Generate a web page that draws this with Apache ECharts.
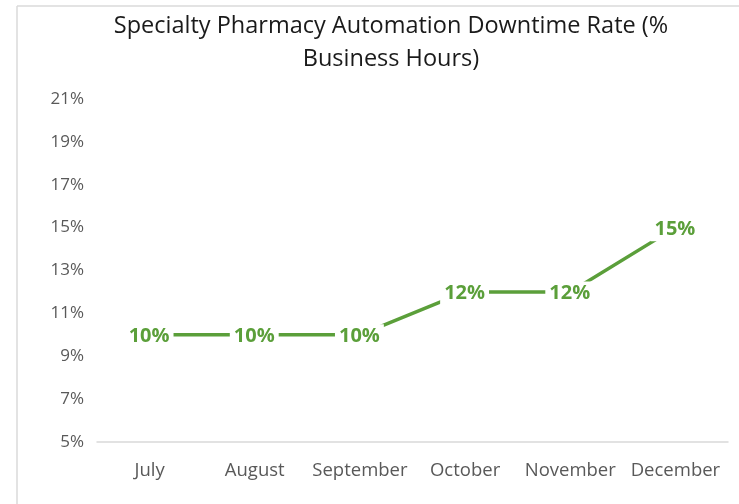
<!DOCTYPE html>
<html>
<head>
<meta charset="utf-8">
<script src="https://cdn.jsdelivr.net/npm/echarts@6/dist/echarts.min.js"></script>
<style>
  html, body { margin: 0; padding: 0; background: #ffffff; }
  #chart { width: 739px; height: 504px; }
</style>
</head>
<body>
<div id="chart"></div>
<script>
// Monthly downtime rate, percent of business hours
const months = ['July', 'August', 'September', 'October', 'November', 'December'];
const downtimePct = [10, 10, 10, 12, 12, 15];
const yTicks = { min: 5, max: 21, step: 2 };

const chart = echarts.init(document.getElementById('chart'));
const FONT = '"Open Sans", Lato, sans-serif';
const GREEN = '#5b9f3a';

chart.setOption({
  backgroundColor: '#ffffff',
  animation: false,
  title: {
    text: 'Specialty Pharmacy Automation Downtime Rate (%\nBusiness Hours)',
    left: 386,
    textAlign: 'center',
    top: 5,
    textStyle: {
      fontFamily: FONT,
      fontSize: 23.5,
      fontWeight: 'normal',
      color: '#1a1a1a',
      lineHeight: 33
    }
  },
  graphic: [
    { type: 'line', shape: { x1: 17, y1: 6, x2: 739, y2: 6 }, style: { stroke: '#dadada', lineWidth: 1.5 } },
    { type: 'line', shape: { x1: 17, y1: 6, x2: 17, y2: 504 }, style: { stroke: '#dadada', lineWidth: 1.5 } }
  ],
  grid: { left: 97, right: 11, top: 99, bottom: 62 },
  xAxis: {
    type: 'category',
    data: months,
    boundaryGap: true,
    axisLine: { lineStyle: { color: '#d9d9d9', width: 1.5 } },
    axisTick: { show: false },
    axisLabel: {
      interval: 0,
      fontFamily: FONT,
      fontSize: 18.5,
      color: '#595959',
      margin: 19
    }
  },
  yAxis: {
    type: 'value',
    min: yTicks.min,
    max: yTicks.max,
    interval: yTicks.step,
    axisLine: { show: false },
    axisTick: { show: false },
    splitLine: { show: false },
    axisLabel: {
      fontFamily: FONT,
      fontSize: 17,
      color: '#595959',
      margin: 13,
      formatter: '{value}%'
    }
  },
  series: [{
    type: 'line',
    data: downtimePct,
    symbol: 'circle',
    symbolSize: 1,
    showSymbol: true,
    itemStyle: { color: GREEN },
    lineStyle: { color: GREEN, width: 3.5 },
    label: {
      show: true,
      position: [0, 0],
      align: 'center',
      verticalAlign: 'middle',
      offset: [0, 2],
      formatter: '{c}%',
      fontFamily: FONT,
      fontSize: 20,
      fontWeight: 'bold',
      color: GREEN,
      backgroundColor: '#ffffff',
      padding: [2, 4]
    },
    z: 3
  }]
});
</script>
</body>
</html>
